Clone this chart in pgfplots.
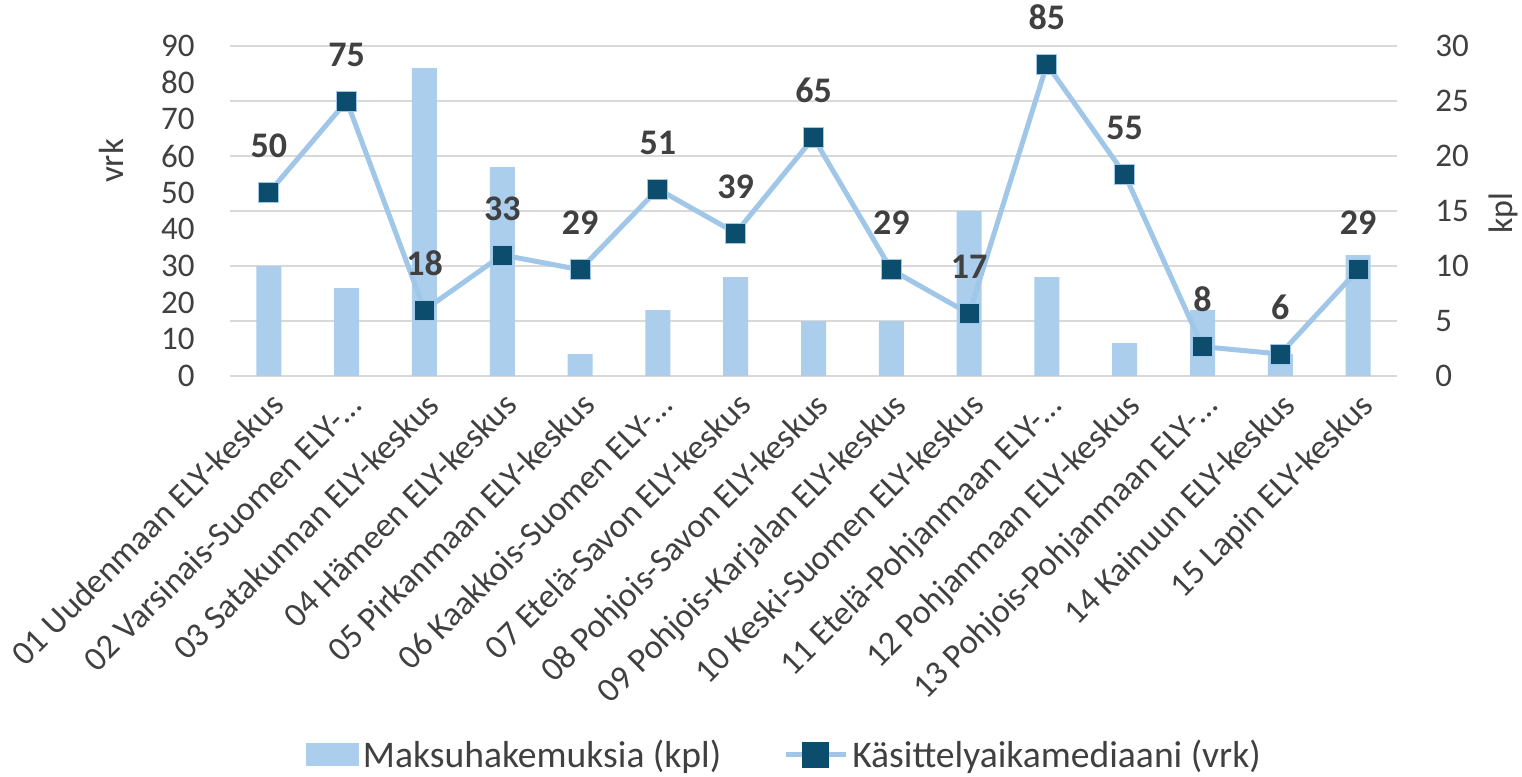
\documentclass[border=0pt]{standalone}
\usepackage{fontspec}
\setmainfont{Carlito}
\usepackage{pgfplots}
\pgfplotsset{compat=1.18}
\definecolor{barblue}{RGB}{170,206,236}
\definecolor{lineblue}{RGB}{160,198,232}
\definecolor{markblue}{RGB}{12,77,110}
\definecolor{txt}{RGB}{64,64,64}
\definecolor{gridc}{RGB}{217,217,217}
\newcommand{\tickfont}{\fontsize{16.5}{18}\selectfont}
\newcommand{\xtickfont}{\fontsize{17.2}{19}\selectfont}
\begin{document}
\begin{tikzpicture}
\useasboundingbox (-115pt,-200.5pt) rectangle (646pt,188pt);
% bars: kpl (right axis)
\begin{axis}[
  at={(0,0)}, anchor=south west,
  scale only axis, width=583.5pt, height=165pt,
  clip=false,
  xmin=-0.5, xmax=14.5, ymin=0, ymax=30,
  axis x line*=bottom, axis y line*=right,
  axis line style={draw=none},
  major tick length=0pt,
  ytick={0,5,...,30},
  ymajorgrids, grid style={gridc, line width=0.75pt},
  xtick={0,...,14},
  xticklabels={01 Uudenmaan ELY-keskus, 02 Varsinais-Suomen ELY-…, 03 Satakunnan ELY-keskus, 04 Hämeen ELY-keskus, 05 Pirkanmaan ELY-keskus, 06 Kaakkois-Suomen ELY-…, 07 Etelä-Savon ELY-keskus, 08 Pohjois-Savon ELY-keskus, 09 Pohjois-Karjalan ELY-keskus, 10 Keski-Suomen ELY-keskus, 11 Etelä-Pohjanmaan ELY-…, 12 Pohjanmaan ELY-keskus, 13 Pohjois-Pohjanmaan ELY-…, 14 Kainuun ELY-keskus, 15 Lapin ELY-keskus},
  xticklabel style={xshift=0pt, yshift=-7pt, rotate=45, anchor=north east, inner sep=0pt, font=\xtickfont, text=txt},
  yticklabel style={anchor=west, inner sep=0pt, xshift=19pt, font=\tickfont, text=txt},
  /pgf/number format/assume math mode=true,
]
\addplot[ybar, bar width=12.5pt, fill=barblue, draw=none] coordinates {
  (0,10) (1,8) (2,28) (3,19) (4,2) (5,6) (6,9) (7,5) (8,5) (9,15) (10,9) (11,3) (12,6) (13,2) (14,11)};
\node[rotate=90, font=\fontsize{17}{20}\selectfont, text=txt] at (axis description cs:1.091,0.494) {kpl};
\end{axis}
% line: vrk (left axis)
\begin{axis}[
  at={(0,0)}, anchor=south west,
  scale only axis, width=583.5pt, height=165pt,
  clip=false,
  xmin=-0.5, xmax=14.5, ymin=0, ymax=90,
  axis x line=none, axis y line*=left,
  axis line style={draw=none},
  xtick=\empty,
  major tick length=0pt,
  ytick={0,10,...,90},
  yticklabel style={anchor=east, inner sep=0pt, xshift=-17.5pt, font=\tickfont, text=txt},
  /pgf/number format/assume math mode=true,
  legend columns=2,
  legend style={at={(axis description cs:0.476,-1.148)}, anchor=center, draw=none, fill=none,
    font=\fontsize{18.8}{22}\selectfont, text=txt,
    /tikz/every even column/.append style={column sep=29pt}},
  legend cell align=left,
]
\addlegendimage{legend image code/.code={\fill[barblue] (0pt,-5.5pt) rectangle (26pt,5.5pt);}}
\addlegendentry{Maksuhakemuksia (kpl)}
\addplot[lineblue, line width=2.5pt, mark=square*, mark size=5pt,
  mark options={fill=markblue, draw=lineblue, line width=0.5pt},
  nodes near coords,
  every node near coord/.append style={anchor=base, yshift=17.5pt, font=\fontsize{18}{20}\bfseries, text=txt},
  legend image code/.code={\draw[lineblue, line width=2.5pt] (0pt,0pt) -- (30pt,0pt); \fill[markblue] (9.5pt,-5.25pt) rectangle (20.5pt,5.25pt);}
] coordinates {
  (0,50) (1,75) (2,18) (3,33) (4,29) (5,51) (6,39) (7,65) (8,29) (9,17) (10,85) (11,55) (12,8) (13,6) (14,29)};
\addlegendentry{Käsittelyaikamediaani (vrk)}
\node[rotate=90, font=\fontsize{17.5}{20}\selectfont, text=txt] at (axis description cs:-0.102,0.652) {vrk};
\end{axis}
\end{tikzpicture}
\end{document}
